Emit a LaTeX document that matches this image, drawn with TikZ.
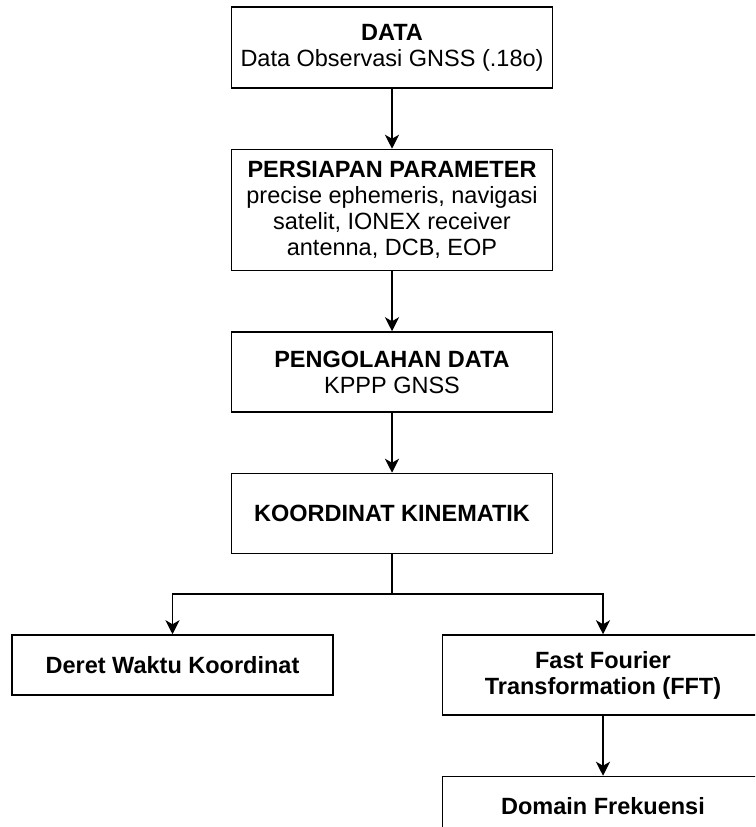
\documentclass[tikz,border=0pt]{standalone}
\usepackage{fontspec}
\setmainfont{Liberation Sans}
\usetikzlibrary{positioning, arrows.meta}
\tikzstyle{block} = [draw, rectangle, line width=1.5pt, align=center, inner sep=0pt, minimum width=321pt, minimum height=80pt, font=\fontsize{23.5}{26}\selectfont]
\tikzstyle{branch} = [coordinate]

\begin{document}
\begin{tikzpicture}[x=1pt, y=1pt, node distance=60pt, line width=1.5pt, >={Stealth[length=14pt, width=14pt, inset=4pt]}]
\useasboundingbox (0,0) rectangle (755,827);
\clip (0,0) rectangle (755,827);

\node [block, minimum height=81pt] (data) at (392,779.5) {\textbf{DATA}\\Data Observasi GNSS (.18o)};
\node [block, minimum height=121pt, below=of data] (param) {\textbf{PERSIAPAN PARAMETER}\\precise ephemeris, navigasi\\satelit, IONEX receiver\\antenna, DCB, EOP};
\node [block, below=of param] (olah) {\textbf{PENGOLAHAN DATA}\\KPPP GNSS};
\node [block, below=of olah] (koord) {\textbf{KOORDINAT KINEMATIK}};
\node [branch, below=40pt of koord] (split) {};
\node [block, minimum height=60pt, below=40pt of split, xshift=-219.5pt] (deret) {\textbf{Deret Waktu Koordinat}};
\node [block, below=40pt of split, xshift=211pt] (fft) {\textbf{Fast Fourier}\\\textbf{Transformation (FFT)}};
\node [block, minimum height=60pt, below=of fft] (domain) {\textbf{Domain Frekuensi}};

\draw [->] (data) -- (param);
\draw [->] (param) -- (olah);
\draw [->] (olah) -- (koord);
\draw (koord) -- (split);
\draw [->] (split) -| (deret);
\draw [->] (split) -| (fft);
\draw [->] (fft) -- (domain);
\end{tikzpicture}
\end{document}
